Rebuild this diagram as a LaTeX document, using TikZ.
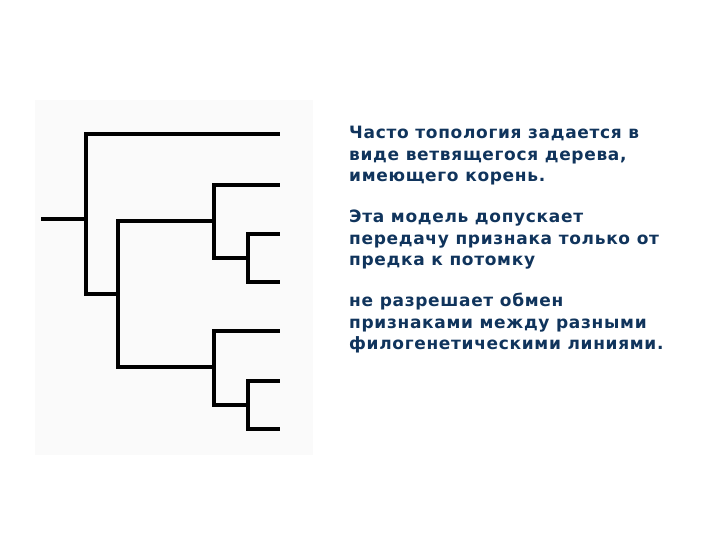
\documentclass[tikz,border=0pt]{standalone}
\usepackage{fontspec}
\setmainfont{DejaVu Sans}[LetterSpace=4]
\usepackage{xcolor}
\usepackage{tikz}
\definecolor{navytext}{RGB}{16,52,92}
\definecolor{paper}{RGB}{250,250,250}

\begin{document}
\begin{tikzpicture}[x=1pt,y=-1pt]
    \useasboundingbox (0,0) rectangle (720,540);
    \tikzset{branch/.style={line width=3.5pt}}

    % faint scanned backdrop of the tree
    \fill[paper] (35,100) rectangle (313,455);

    % joints of the tree
    \coordinate (root) at (41,219);
    \coordinate (n1) at (86,219);
    \coordinate (n2) at (118,294);
    \coordinate (n3) at (214,221);
    \coordinate (n4) at (248,258);
    \coordinate (n5) at (214,367);
    \coordinate (n6) at (248,405);

    % leaves
    \coordinate (t1) at (280,134);
    \coordinate (t2) at (280,185);
    \coordinate (t3) at (280,234);
    \coordinate (t4) at (280,282);
    \coordinate (t5) at (280,331);
    \coordinate (t6) at (280,381);
    \coordinate (t7) at (280,429);

    \draw[branch] (root)--(n1);
    \draw[branch] (n1) |- (t1);
    \draw[branch] (n1) |- (n2);
    \draw[branch] (n2) |- (n3);
    \draw[branch] (n2) |- (n5);
    \draw[branch] (n3) |- (t2);
    \draw[branch] (n3) |- (n4);
    \draw[branch] (n4) |- (t3);
    \draw[branch] (n4) |- (t4);
    \draw[branch] (n5) |- (t5);
    \draw[branch] (n5) |- (n6);
    \draw[branch] (n6) |- (t6);
    \draw[branch] (n6) |- (t7);

    \node[anchor=north west,align=left,inner sep=0pt,text=navytext,
          font=\fontsize{17}{21.5}\selectfont\bfseries] (txt) at (349,126)
        {Часто топология задается в\\
         виде ветвящегося дерева,\\
         имеющего корень.\\[19.5pt]
         Эта модель допускает\\
         передачу признака только от\\
         предка к потомку\\[19.5pt]
         не разрешает обмен\\
         признаками между разными\\
         филогенетическими линиями.};
\end{tikzpicture}
\end{document}
